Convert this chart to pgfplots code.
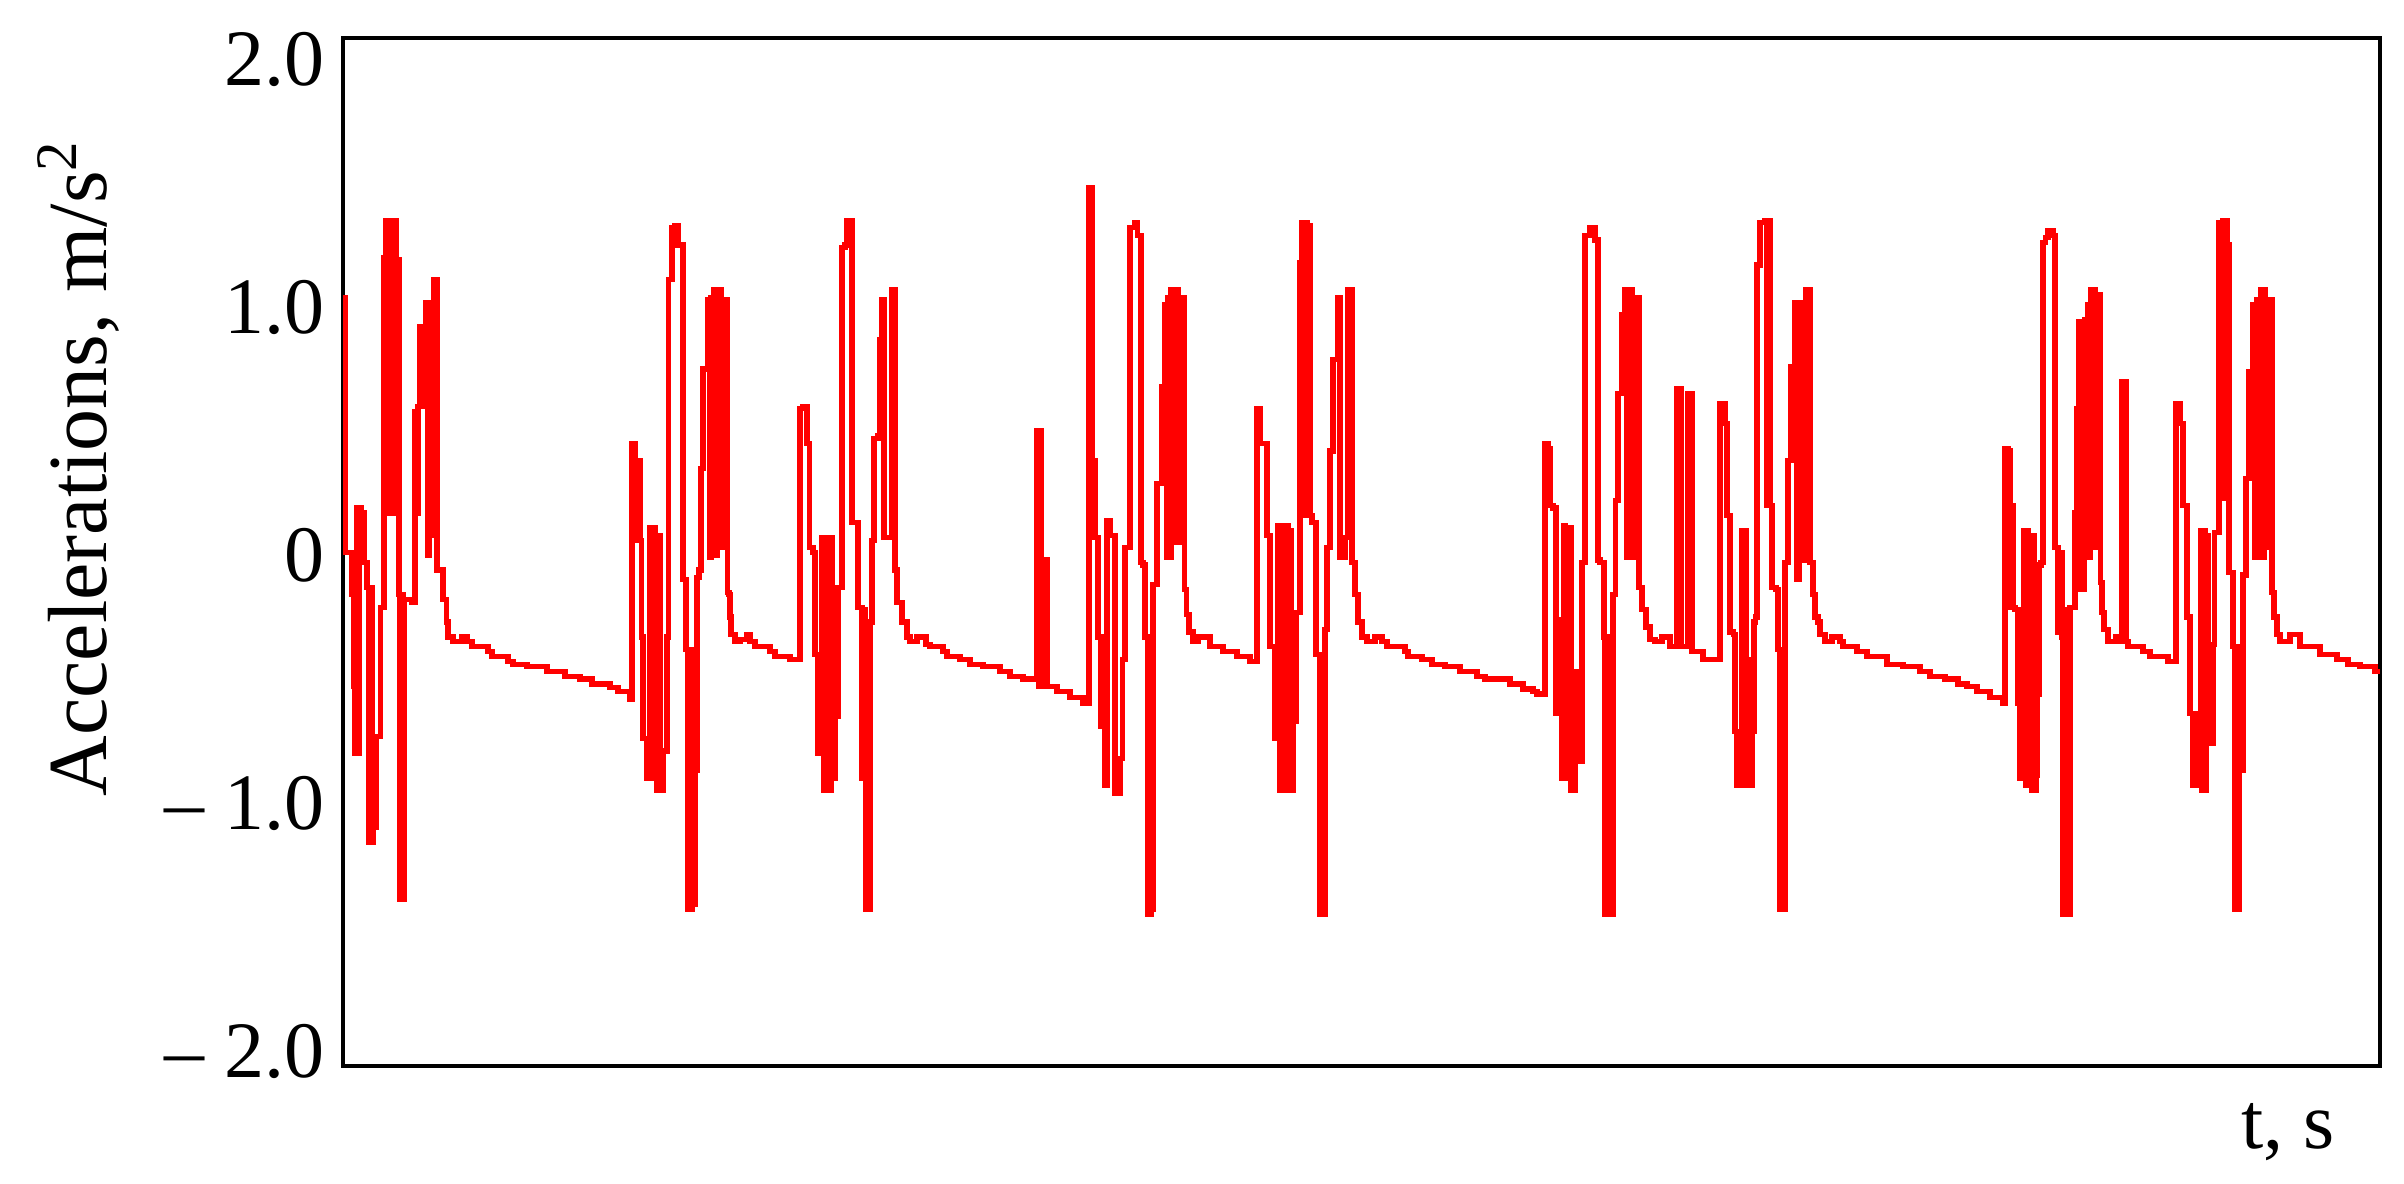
\documentclass[border=0pt]{standalone}
\usepackage{pgfplots}
\pgfplotsset{compat=1.18}
\usepackage{fontspec}
\setmainfont{Liberation Serif}
\definecolor{sigred}{HTML}{FF0000}

\pgfplotstableread{
x y
343 1.04
345 0.01
351.5 -0.16
353.5 -0.53
355 -0.80
356.5 0.19
358 -0.80
359.5 0.19
361 0.17
364.5 -0.03
367 -0.13
369 -1.16
370.5 -0.13
372 -1.16
373.5 -1.10
376.5 -0.73
380.5 -0.21
384 1.20
385.5 1.35
387 0.17
388.5 1.35
390 0.17
391.5 1.35
393 0.17
394.5 1.35
396.5 1.19
399 -0.16
400 -1.39
401.5 -0.16
403 -1.39
404.5 -0.18
411.5 -0.19
415 0.58
416.5 0.17
418 0.60
420 0.92
421.5 0.60
423 0.92
424.5 0.60
426 1.02
427.5 0.00
429 1.02
430.5 0.08
434 1.11
437 -0.06
443 -0.18
446.5 -0.27
448 -0.33
453 -0.35
462 -0.33
467.5 -0.35
472 -0.37
488 -0.39
492 -0.41
508 -0.43
513 -0.44
527 -0.45
547 -0.47
565 -0.49
580 -0.50
592 -0.52
610 -0.535
618 -0.55
630 -0.58
632 0.45
635 0.38
637 0.06
638.5 0.38
640 0.06
641.5 -0.33
643 -0.74
647 -0.90
650 0.11
651.5 -0.90
653 0.11
655 0.08
657 -0.95
658.5 0.08
660 -0.95
663 -0.79
667 -0.33
668.5 1.11
672 1.32
675 1.33
678 1.25
683 -0.10
686 -0.38
688 -1.43
689.5 -0.38
691 -1.43
692.5 -0.38
694 -1.41
695.5 -0.87
697 -0.09
699 -0.06
701 0.35
703 0.75
708 1.03
709.5 -0.01
711 1.04
712.5 0.00
714 1.07
715.5 0.00
717 1.07
718.5 0.03
720 1.07
721.5 0.03
723 1.03
724.5 0.03
726 1.03
727.5 -0.15
729 -0.16
730 -0.25
731 -0.32
735 -0.35
740 -0.34
747 -0.32
750 -0.35
755 -0.37
770 -0.39
775 -0.41
790 -0.42
800 0.59
803 0.60
807 0.45
809.5 0.03
813 0.01
815 -0.40
818 -0.80
822 0.07
823.5 -0.95
825 0.07
826.5 -0.95
828 0.07
829.5 -0.95
831 0.07
832.5 -0.90
835 -0.65
838 -0.13
842 1.24
845 1.25
847 1.35
852 0.13
858 -0.21
862 -0.90
864 -0.22
865.5 -1.43
867 -0.27
868.5 -1.43
870 -0.27
872 0.06
874 0.47
878 0.48
880 0.87
882 1.03
884 0.07
892 1.07
895 -0.06
897 -0.19
902 -0.27
907 -0.33
910 -0.35
917 -0.33
926 -0.36
930 -0.37
943 -0.39
947 -0.41
960 -0.42
970 -0.44
983 -0.45
1000 -0.47
1010 -0.49
1023 -0.50
1037 0.50
1038.5 -0.53
1040 0.50
1041.5 -0.53
1043 -0.02
1044.5 -0.53
1046 -0.02
1047 -0.53
1057 -0.55
1070 -0.575
1083 -0.60
1089 1.48
1092 0.38
1095 0.07
1098 -0.33
1101 -0.69
1105 -0.93
1107 0.14
1110 0.08
1115 -0.96
1120 -0.82
1122.5 -0.42
1125 0.03
1130 1.32
1135 1.34
1137.5 1.29
1141 -0.03
1143 -0.04
1145 -0.33
1148 -1.45
1151.5 -1.43
1153 -0.12
1157 0.29
1162 0.68
1165 1.01
1166.5 -0.01
1168 1.04
1169.5 -0.01
1171 1.07
1172.5 0.05
1174 1.07
1175.5 0.05
1177 1.07
1178.5 0.05
1180 1.04
1181.5 0.05
1183 1.04
1184.5 -0.14
1186.5 -0.24
1189 -0.31
1193 -0.35
1198 -0.33
1210 -0.37
1223 -0.39
1237 -0.41
1250 -0.43
1257 0.59
1260 0.45
1267 0.08
1270 -0.37
1275 -0.74
1278 0.12
1279.5 -0.95
1281 0.12
1282.5 -0.95
1284 0.12
1285.5 -0.95
1287 0.12
1288.5 -0.95
1290 0.10
1291.5 -0.95
1293 -0.67
1296 -0.23
1300 1.18
1302 1.34
1304 0.16
1305.5 1.34
1307 0.16
1308.5 1.33
1310 0.16
1312 0.13
1316 -0.40
1320 -1.45
1325 -0.30
1327 0.03
1330 0.42
1333 0.79
1338 1.04
1340 -0.01
1345 0.07
1348 1.07
1352 -0.03
1355 -0.16
1358 -0.27
1362 -0.33
1367 -0.35
1375 -0.33
1382 -0.35
1387 -0.37
1405 -0.39
1408 -0.41
1422 -0.42
1432 -0.44
1445 -0.45
1460 -0.47
1477 -0.49
1485 -0.50
1510 -0.52
1523 -0.54
1533 -0.55
1537 -0.56
1545 0.45
1548 0.43
1550 0.20
1553 0.19
1556 -0.64
1557.5 -0.26
1559 -0.64
1560.5 -0.27
1562 -0.90
1563.5 0.12
1565 -0.90
1566.5 0.10
1568 0.11
1571 -0.95
1572.5 -0.47
1574 -0.95
1575.5 -0.47
1577 -0.83
1578.5 -0.47
1580 -0.83
1582 -0.03
1585 1.29
1590 1.32
1595 1.27
1598 -0.02
1600 -0.03
1604 -0.33
1605 -1.45
1606.5 -0.33
1608 -1.45
1609.5 -0.33
1611 -1.45
1613 -0.16
1615.5 0.22
1618 0.65
1622 0.97
1625 1.07
1626.5 -0.01
1628 1.07
1629.5 -0.01
1631 1.07
1632.5 -0.01
1634 1.04
1635.5 0.05
1637 1.04
1639 -0.13
1642 -0.22
1646 -0.29
1650 -0.34
1655 -0.35
1662 -0.33
1670 -0.37
1677 0.67
1681 -0.37
1688 0.65
1692 -0.39
1703 -0.42
1720 0.61
1725 0.53
1727 0.16
1730 -0.31
1733.5 -0.32
1735 -0.71
1737 -0.93
1739 -0.71
1741 -0.93
1742 0.10
1743.5 -0.42
1745 0.10
1746.5 -0.42
1748 -0.93
1749.5 -0.42
1751 -0.93
1752.5 -0.71
1754 -0.27
1755.5 -0.25
1757 1.17
1760 1.34
1765 1.35
1767 0.20
1768.5 1.35
1770 0.20
1772 -0.13
1776 -0.14
1778 -0.38
1780 -1.43
1781.5 -0.38
1783 -1.43
1785 -0.03
1788 0.38
1791 0.76
1795 1.02
1797 -0.10
1799 1.02
1800.5 0.50
1802 1.02
1803.5 -0.02
1806 1.07
1810 -0.03
1813 -0.16
1815 -0.25
1818 -0.27
1820 -0.32
1825 -0.35
1832 -0.33
1840 -0.35
1843 -0.37
1857 -0.39
1867 -0.41
1887 -0.44
1903 -0.45
1920 -0.47
1930 -0.49
1945 -0.50
1958 -0.52
1967 -0.53
1977 -0.55
1990 -0.575
2003 -0.60
2005 0.43
2008.5 0.42
2010 -0.21
2011.5 0.20
2013 -0.21
2015 -0.22
2018 -0.60
2019.5 -0.90
2021 -0.60
2022.5 -0.90
2024 0.10
2025.5 -0.93
2027 0.10
2028.5 -0.93
2030 0.08
2031.5 -0.95
2033 0.08
2034.5 -0.95
2036 -0.89
2037.5 -0.56
2039 -0.04
2041 -0.03
2043 1.26
2045.5 1.28
2048 1.31
2053 1.29
2055 0.03
2058 -0.31
2060 0.01
2062 -0.33
2063 -1.45
2064.5 -0.33
2066 -1.45
2067.5 -0.22
2069 -1.45
2070 -0.21
2075 0.17
2077 0.59
2078.5 0.94
2080 -0.14
2081.5 0.94
2083 -0.14
2084.5 0.95
2086 -0.01
2087.5 1.01
2089 -0.01
2090.5 1.07
2092 0.03
2093.5 1.07
2095 0.03
2096.5 1.05
2098 0.03
2099.5 1.05
2100.5 -0.11
2102 -0.23
2104 -0.30
2108 -0.35
2116 -0.33
2120 -0.35
2122 0.70
2126 -0.35
2128 -0.37
2143 -0.39
2150 -0.41
2168 -0.43
2176 0.61
2180 0.53
2183 0.20
2187 -0.25
2190 -0.64
2193 -0.93
2194.5 -0.64
2196 -0.93
2197.5 -0.64
2199 -0.93
2200.5 0.10
2202 -0.95
2203.5 0.10
2205 -0.95
2206.5 0.08
2208 -0.76
2209.5 -0.36
2211 -0.76
2213 -0.36
2214.5 0.09
2217 0.09
2219 1.34
2223 1.35
2224.5 0.23
2226 1.35
2227.5 1.25
2229 -0.07
2231 -0.07
2233 -0.37
2235 -1.43
2236.5 -0.37
2238 -1.43
2239.5 -0.37
2241 -0.87
2243 -0.08
2246 0.31
2249 0.74
2253 1.01
2255 -0.01
2257 1.03
2259 -0.01
2261 1.07
2262.5 -0.01
2264 1.07
2265.5 0.03
2267 1.03
2268.5 0.03
2270 1.03
2272 -0.15
2274 -0.25
2277 -0.32
2280 -0.35
2290 -0.32
2300 -0.37
2320 -0.40
2337 -0.42
2348 -0.44
2360 -0.45
2375 -0.47
2380 -0.47
}\accdata

\begin{document}
\begin{tikzpicture}[x=1pt,y=1pt]
% page frame, same proportions as the reference
\useasboundingbox (-85.75,-29.5) rectangle (515.25,266.5);
\begin{axis}[
at={(0,0)},anchor=south west,
scale only axis,width=509.25pt,height=257pt,
xmin=343,xmax=2380,ymin=-2.06,ymax=2.085,
axis line style={line width=0.85pt},
xtick=\empty,
ytick={-2,-1,0,1,2},
yticklabels={– 2.0,– 1.0,0,1.0,2.0},
major tick length=0pt,
tick label style={font=\fontsize{20}{24}\selectfont},
yticklabel style={inner xsep=0pt,xshift=-4.5pt},
label style={font=\fontsize{20}{24}\selectfont},
ylabel={Accelerations, m/s\textsuperscript{2}},
ylabel style={font=\fontsize{21}{25}\selectfont,at={(axis description cs:-0.1159,0.5817)},anchor=base},
xlabel={t, s},
xlabel style={at={(axis description cs:0.9548,-0.0798)},anchor=base},
]
\addplot[sigred,line width=1.3pt,const plot mark left,no marks] table[x=x,y=y] {\accdata};
\end{axis}
\end{tikzpicture}
\end{document}
